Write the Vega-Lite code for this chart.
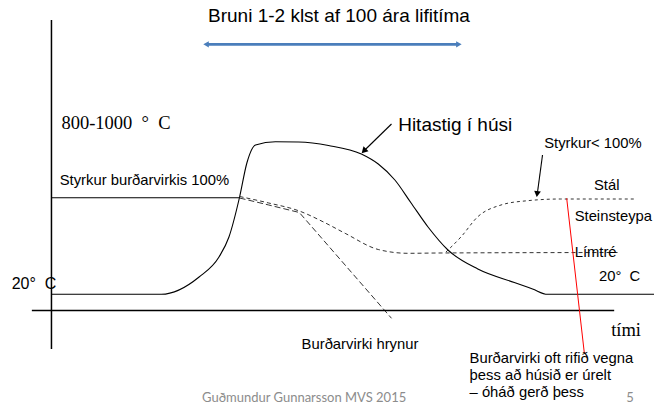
{
  "$schema": "https://vega.github.io/schema/vega-lite/v6.json",
  "width": 657,
  "height": 406,
  "autosize": {"type": "fit", "contains": "padding"},
  "padding": 0,
  "background": "white",
  "config": {"view": {"stroke": null}},
  "datasets": {
    "curves": [
      {"id": "temp", "x": 52, "y": 294.3},
      {"id": "temp", "x": 162, "y": 294.3},
      {"id": "temp", "x": 200, "y": 277},
      {"id": "temp", "x": 220, "y": 257},
      {"id": "temp", "x": 230, "y": 237},
      {"id": "temp", "x": 240.7, "y": 197},
      {"id": "temp", "x": 248, "y": 163},
      {"id": "temp", "x": 256.7, "y": 145},
      {"id": "temp", "x": 276.7, "y": 141.7},
      {"id": "temp", "x": 300, "y": 142},
      {"id": "temp", "x": 330, "y": 145.5},
      {"id": "temp", "x": 363, "y": 154},
      {"id": "temp", "x": 380, "y": 164},
      {"id": "temp", "x": 396.7, "y": 180},
      {"id": "temp", "x": 413, "y": 203},
      {"id": "temp", "x": 430, "y": 227},
      {"id": "temp", "x": 450, "y": 250},
      {"id": "temp", "x": 480, "y": 269},
      {"id": "temp", "x": 516.7, "y": 282.5},
      {"id": "temp", "x": 535, "y": 289},
      {"id": "temp", "x": 550, "y": 294.3},
      {"id": "temp", "x": 657, "y": 294.3},
      {"id": "B", "x": 240.7, "y": 196.5},
      {"id": "B", "x": 270, "y": 203},
      {"id": "B", "x": 300.7, "y": 211},
      {"id": "B", "x": 325, "y": 222},
      {"id": "B", "x": 346.7, "y": 233.3},
      {"id": "B", "x": 380, "y": 249.5},
      {"id": "B", "x": 410, "y": 253.3},
      {"id": "B", "x": 440, "y": 253},
      {"id": "B", "x": 623, "y": 252.5},
      {"id": "A", "x": 240.7, "y": 198},
      {"id": "A", "x": 270, "y": 205},
      {"id": "A", "x": 300.7, "y": 212.5},
      {"id": "A", "x": 393.3, "y": 318.3},
      {"id": "C", "x": 448, "y": 252},
      {"id": "C", "x": 463.3, "y": 236.7},
      {"id": "C", "x": 480, "y": 216.7},
      {"id": "C", "x": 503.3, "y": 205},
      {"id": "C", "x": 530, "y": 200.7},
      {"id": "C", "x": 563.3, "y": 199},
      {"id": "C", "x": 636.7, "y": 199}
    ],
    "rules": [
      {"id": "axis", "x": 51.7, "x2": 51.7, "y": 20, "y2": 349},
      {"id": "axis", "x": 32, "x2": 617, "y": 310.5, "y2": 310.5},
      {"id": "thin", "x": 52, "x2": 240.7, "y": 197.7, "y2": 197.7},
      {"id": "thin", "x": 393.3, "x2": 366, "y": 124, "y2": 150.5},
      {"id": "thin", "x": 545, "x2": 540, "y": 155, "y2": 192},
      {"id": "red", "x": 569.3, "x2": 587, "y": 198.3, "y2": 353},
      {"id": "blue", "x": 208, "x2": 460, "y": 44.3, "y2": 44.3}
    ],
    "labels": [
      {"id": "title", "x": 340.5, "y": 16, "text": "Bruni 1-2 klst af 100 ára lifitíma"},
      {"id": "big", "x": 400, "y": 125, "text": "Hitastig í húsi"},
      {"id": "serif", "x": 61.7, "y": 123, "text": "800-1000\u00a0\u00a0°\u00a0\u00a0C"},
      {"id": "serif", "x": 614, "y": 330, "text": "tími"},
      {"id": "n", "x": 60, "y": 181, "text": "Styrkur burðarvirkis 100%"},
      {"id": "n", "x": 546.7, "y": 144, "text": "Styrkur< 100%"},
      {"id": "n", "x": 596.7, "y": 186, "text": "Stál"},
      {"id": "n", "x": 577.3, "y": 217.3, "text": "Steinsteypa"},
      {"id": "n", "x": 577.3, "y": 253.3, "text": "Límtré"},
      {"id": "n", "x": 601.7, "y": 277.3, "text": "20°\u00a0\u00a0C"},
      {"id": "n", "x": 303, "y": 345, "text": "Burðarvirki hrynur"},
      {"id": "n", "x": 471.7, "y": 358.5, "text": "Burðarvirki oft rifið vegna"},
      {"id": "n", "x": 471.7, "y": 376, "text": "þess að húsið er úrelt"},
      {"id": "n", "x": 471.7, "y": 393, "text": "– óháð gerð þess"},
      {"id": "left20", "x": 11.7, "y": 284, "text": "20°\u00a0\u00a0C"},
      {"id": "foot", "x": 305.5, "y": 398, "text": "Guðmundur Gunnarsson MVS 2015"},
      {"id": "foot", "x": 633, "y": 398, "text": "5"}
    ],
    "heads": [
      {"id": "h1", "x": 365.5, "y": 151},
      {"id": "h2", "x": 539.6, "y": 194},
      {"id": "bl", "x": 207, "y": 44.3},
      {"id": "br", "x": 461, "y": 44.3}
    ]
  },
  "encoding": {
    "x": {"field": "x", "type": "quantitative", "axis": null, "scale": {"domain": [0, 657], "nice": false, "zero": false}},
    "y": {"field": "y", "type": "quantitative", "axis": null, "scale": {"domain": [0, 406], "nice": false, "zero": false, "reverse": true}}
  },
  "layer": [
    {
      "data": {"name": "curves"},
      "transform": [{"filter": "datum.id === 'temp'"}],
      "mark": {"type": "line", "interpolate": "monotone", "color": "black", "strokeWidth": 1.1}
    },
    {
      "data": {"name": "curves"},
      "transform": [{"filter": "datum.id === 'B'"}],
      "mark": {"type": "line", "interpolate": "monotone", "color": "#333", "strokeWidth": 1, "strokeDash": [4, 3]}
    },
    {
      "data": {"name": "curves"},
      "transform": [{"filter": "datum.id === 'A'"}],
      "mark": {"type": "line", "color": "#333", "strokeWidth": 1, "strokeDash": [6, 3]}
    },
    {
      "data": {"name": "curves"},
      "transform": [{"filter": "datum.id === 'C'"}],
      "mark": {"type": "line", "interpolate": "monotone", "color": "#333", "strokeWidth": 1, "strokeDash": [3, 3]}
    },
    {
      "data": {"name": "rules"},
      "transform": [{"filter": "datum.id === 'axis'"}],
      "mark": {"type": "rule", "color": "black", "strokeWidth": 1.5},
      "encoding": {"x2": {"field": "x2"}, "y2": {"field": "y2"}}
    },
    {
      "data": {"name": "rules"},
      "transform": [{"filter": "datum.id === 'thin'"}],
      "mark": {"type": "rule", "color": "black", "strokeWidth": 1.1},
      "encoding": {"x2": {"field": "x2"}, "y2": {"field": "y2"}}
    },
    {
      "data": {"name": "rules"},
      "transform": [{"filter": "datum.id === 'red'"}],
      "mark": {"type": "rule", "color": "#ff0000", "strokeWidth": 1},
      "encoding": {"x2": {"field": "x2"}, "y2": {"field": "y2"}}
    },
    {
      "data": {"name": "rules"},
      "transform": [{"filter": "datum.id === 'blue'"}],
      "mark": {"type": "rule", "color": "#4a7ebb", "strokeWidth": 2.8},
      "encoding": {"x2": {"field": "x2"}, "y2": {"field": "y2"}}
    },
    {
      "data": {"name": "heads"},
      "transform": [{"filter": "datum.id === 'h1'"}],
      "mark": {"type": "point", "shape": "triangle-down", "angle": 45, "filled": true, "color": "black", "size": 50, "opacity": 1}
    },
    {
      "data": {"name": "heads"},
      "transform": [{"filter": "datum.id === 'h2'"}],
      "mark": {"type": "point", "shape": "triangle-down", "angle": 8, "filled": true, "color": "black", "size": 45, "opacity": 1}
    },
    {
      "data": {"name": "heads"},
      "transform": [{"filter": "datum.id === 'bl'"}],
      "mark": {"type": "point", "shape": "triangle-left", "filled": true, "color": "#4a7ebb", "size": 40, "opacity": 1}
    },
    {
      "data": {"name": "heads"},
      "transform": [{"filter": "datum.id === 'br'"}],
      "mark": {"type": "point", "shape": "triangle-right", "filled": true, "color": "#4a7ebb", "size": 40, "opacity": 1}
    },
    {
      "data": {"name": "labels"},
      "transform": [{"filter": "datum.id === 'title'"}],
      "mark": {"type": "text", "align": "center", "baseline": "middle", "font": "Liberation Sans", "fontSize": 19, "color": "black"},
      "encoding": {"text": {"field": "text"}}
    },
    {
      "data": {"name": "labels"},
      "transform": [{"filter": "datum.id === 'big'"}],
      "mark": {"type": "text", "align": "left", "baseline": "middle", "font": "Liberation Sans", "fontSize": 19, "color": "black"},
      "encoding": {"text": {"field": "text"}}
    },
    {
      "data": {"name": "labels"},
      "transform": [{"filter": "datum.id === 'serif'"}],
      "mark": {"type": "text", "align": "left", "baseline": "middle", "font": "Liberation Serif", "fontSize": 18.5, "color": "black"},
      "encoding": {"text": {"field": "text"}}
    },
    {
      "data": {"name": "labels"},
      "transform": [{"filter": "datum.id === 'n'"}],
      "mark": {"type": "text", "align": "left", "baseline": "middle", "font": "Liberation Sans", "fontSize": 14.8, "color": "black"},
      "encoding": {"text": {"field": "text"}}
    },
    {
      "data": {"name": "labels"},
      "transform": [{"filter": "datum.id === 'left20'"}],
      "mark": {"type": "text", "align": "left", "baseline": "middle", "font": "Liberation Sans", "fontSize": 16, "color": "black"},
      "encoding": {"text": {"field": "text"}}
    },
    {
      "data": {"name": "labels"},
      "transform": [{"filter": "datum.id === 'foot'"}],
      "mark": {"type": "text", "align": "center", "baseline": "middle", "font": "Lato", "fontSize": 13, "color": "#8c8c8c"},
      "encoding": {"text": {"field": "text"}}
    }
  ]
}
